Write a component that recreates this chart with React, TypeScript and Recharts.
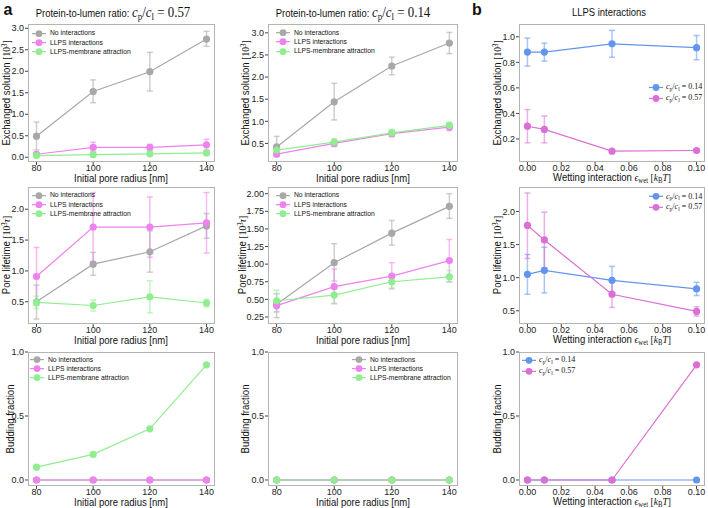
import React from 'react';
import { LineChart, Line, XAxis, YAxis, ErrorBar } from 'recharts';

// x values
const poreRadius = [80, 100, 120, 140];
const wetting = [0, 0.01, 0.05, 0.1];

// tick labels
const radiusTicks = [80, 100, 120, 140];
const wettingTicks = [0, 0.02, 0.04, 0.06, 0.08, 0.1];
const exch057Ticks = [0, 0.5, 1, 1.5, 2, 2.5, 3];
const exch014Ticks = [0.5, 1, 1.5, 2, 2.5, 3];
const exchLlpsTicks = [0.2, 0.4, 0.6, 0.8, 1.0];
const life057Ticks = [0.5, 1, 1.5, 2];
const life014Ticks = [0.25, 0.5, 0.75, 1, 1.25, 1.5, 1.75, 2];
const lifeLlpsTicks = [0.5, 1, 1.5, 2];
const buddingTicks = [0, 0.5, 1];

const seriesNames = ['No interactions', 'LLPS interactions', 'LLPS-membrane attraction'];
const ratioNames = ['0.14', '0.57'];

// exchanged solution [10^3], cp/cl = 0.57
const exch057None = [0.49, 1.53, 1.99, 2.75];
const exch057NoneErr = [[0.32, 0.33], [0.26, 0.27], [0.45, 0.45], [0.17, 0.18]];
const exch057Llps = [0.07, 0.23, 0.23, 0.29];
const exch057LlpsErr = [[0.04, 0.04], [0.1, 0.12], [0.08, 0.07], [0.12, 0.13]];
const exch057Memb = [0.04, 0.06, 0.08, 0.1];
const exch057MembErr = [[0.02, 0.02], [0.02, 0.02], [0.03, 0.03], [0.03, 0.03]];

// exchanged solution, cp/cl = 0.14
const exch014None = [0.42, 1.44, 2.25, 2.77];
const exch014NoneErr = [[0.22, 0.24], [0.41, 0.42], [0.2, 0.2], [0.24, 0.24]];
const exch014Llps = [0.26, 0.5, 0.72, 0.87];
const exch014LlpsErr = [[0.05, 0.05], [0.07, 0.07], [0.07, 0.07], [0.08, 0.08]];
const exch014Memb = [0.35, 0.53, 0.74, 0.91];
const exch014MembErr = [[0.06, 0.06], [0.08, 0.08], [0.08, 0.08], [0.07, 0.07]];

// exchanged solution vs wetting
const exchWet014 = [0.88, 0.88, 0.945, 0.915];
const exchWet014Err = [[0.11, 0.11], [0.07, 0.07], [0.105, 0.105], [0.095, 0.095]];
const exchWet057 = [0.3, 0.275, 0.105, 0.11];
const exchWet057Err = [[0.13, 0.13], [0.105, 0.105], [0.01, 0.01], [0.01, 0.01]];

// pore lifetime [10^3 tau], cp/cl = 0.57
const life057None = [0.5, 1.11, 1.31, 1.73];
const life057NoneErr = [[0.28, 0.27], [0.18, 0.19], [0.33, 0.34], [0.2, 0.2]];
const life057Llps = [0.91, 1.71, 1.71, 1.78];
const life057LlpsErr = [[0.47, 0.47], [0.56, 0.56], [0.49, 0.49], [0.49, 0.49]];
const life057Memb = [0.49, 0.44, 0.58, 0.48];
const life057MembErr = [[0.1, 0.1], [0.09, 0.09], [0.26, 0.26], [0.06, 0.06]];

// pore lifetime, cp/cl = 0.14
const life014None = [0.43, 1.02, 1.44, 1.82];
const life014NoneErr = [[0.19, 0.15], [0.26, 0.27], [0.17, 0.18], [0.17, 0.18]];
const life014Llps = [0.41, 0.68, 0.83, 1.05];
const life014LlpsErr = [[0.09, 0.09], [0.24, 0.25], [0.18, 0.19], [0.3, 0.3]];
const life014Memb = [0.48, 0.56, 0.75, 0.82];
const life014MembErr = [[0.15, 0.15], [0.12, 0.12], [0.09, 0.1], [0.08, 0.09]];

// pore lifetime vs wetting
const lifeWet014 = [1.05, 1.11, 0.96, 0.83];
const lifeWet014Err = [[0.3, 0.3], [0.34, 0.35], [0.2, 0.21], [0.1, 0.1]];
const lifeWet057 = [1.79, 1.57, 0.75, 0.49];
const lifeWet057Err = [[0.5, 0.49], [0.42, 0.42], [0.2, 0.2], [0.07, 0.07]];

// budding fraction
const bud057None = [0, 0, 0, 0];
const bud057Llps = [0, 0, 0, 0];
const bud057Memb = [0.1, 0.2, 0.4, 0.9];
const bud014None = [0, 0, 0, 0];
const bud014Llps = [0, 0, 0, 0];
const bud014Memb = [0, 0, 0, 0];
const budWet014 = [0, 0, 0, 0];
const budWet057 = [0, 0, 0, 0.9];

const GRAY = '#a8a8a8';
const VIOLET = '#ee82ee';
const GREEN = '#90ee90';
const BLUE = '#6495ed';
const ORCHID = '#da70d6';

const SANS = '"Liberation Sans", Arial, sans-serif';
const SERIF = '"Liberation Serif", "DejaVu Serif", serif';

const YW = 34;
const MT = 6;
const MR = 8;
const XH = 16;

type Series = { color: string; values: number[]; err?: number[][] };

const Sub = ({ children, size }: any) => (
  <span style={{ fontSize: size, position: 'relative', top: '0.3em', lineHeight: 0 }}>{children}</span>
);
const Sup = ({ children, size }: any) => (
  <span style={{ fontSize: size, position: 'relative', top: '-0.45em', lineHeight: 0 }}>{children}</span>
);

const CpCl = ({ v, size }: { v: string; size: number }) => (
  <span style={{ fontFamily: SERIF, fontSize: size }}>
    <i>c</i>
    <Sub size={size * 0.7}>p</Sub>/<i>c</i>
    <Sub size={size * 0.7}>l</Sub> = {v}
  </span>
);

interface PanelProps {
  box: number[];
  xs: number[];
  series: Series[];
  xDomain: number[];
  xTicks: number[];
  xDigits: number;
  yDomain: number[];
  yTicks: number[];
  yDigits: number;
  labels: React.ReactNode[];
  leg: { dx: number; dy: number; gap: number; textDx: number; font: number; scale: number };
}

const Panel = ({ box, xs, series, xDomain, xTicks, xDigits, yDomain, yTicks, yDigits, labels, leg }: PanelProps) => {
  const [bx, by, bw, bh] = box;
  const rows = xs.map((x, i) => {
    const row: any = { x };
    series.forEach((s, k) => {
      row['y' + k] = s.values[i];
      if (s.err) row['e' + k] = s.err[i];
    });
    return row;
  });
  const tickStyle = { fontSize: 9, fill: '#222', fontFamily: SANS };
  return (
    <>
      <div style={{ position: 'absolute', left: bx - YW, top: by - MT }}>
        <LineChart
          width={YW + bw + MR}
          height={MT + bh + XH}
          data={rows}
          margin={{ top: MT, right: MR, left: 0, bottom: 0 }}
        >
          <XAxis
            dataKey="x"
            type="number"
            domain={xDomain}
            ticks={xTicks}
            interval={0}
            allowDataOverflow
            axisLine={false}
            tickSize={3}
            tickMargin={0}
            height={XH}
            stroke="#444"
            tick={tickStyle}
            tickFormatter={(v: number) => v.toFixed(xDigits)}
          />
          <YAxis
            type="number"
            domain={yDomain}
            ticks={yTicks}
            interval={0}
            allowDataOverflow
            axisLine={false}
            tickSize={3}
            tickMargin={1}
            width={YW}
            stroke="#444"
            tick={tickStyle}
            tickFormatter={(v: number) => v.toFixed(yDigits)}
          />
          {series.map((s, k) => (
            <Line
              key={k}
              dataKey={'y' + k}
              stroke={s.color}
              strokeWidth={1.2}
              dot={{ r: 3.6, fill: s.color, stroke: s.color, strokeWidth: 0 }}
              isAnimationActive={false}
            >
              {s.err && (
                <ErrorBar dataKey={'e' + k} width={3} stroke={s.color} strokeOpacity={0.55} strokeWidth={1.5} direction="y" />
              )}
            </Line>
          ))}
        </LineChart>
      </div>
      <div
        style={{
          position: 'absolute',
          left: bx,
          top: by,
          width: bw,
          height: bh,
          border: '1.5px solid #b4b4b4',
          boxSizing: 'border-box',
          pointerEvents: 'none',
        }}
      />
      <div style={{ position: 'absolute', left: bx + leg.dx - 7, top: by + leg.dy - leg.gap / 2 }}>
        {series.map((s, k) => (
          <div key={k} style={{ position: 'relative', height: leg.gap, whiteSpace: 'nowrap' }}>
            <svg width={14} height={leg.gap} style={{ position: 'absolute', left: 0, top: 0 }}>
              <line x1={0} y1={leg.gap / 2} x2={14} y2={leg.gap / 2} stroke={s.color} strokeWidth={1.2} />
              <circle cx={7} cy={leg.gap / 2} r={3.4} fill={s.color} />
            </svg>
            <span
              style={{
                position: 'absolute',
                left: leg.textDx + 7,
                top: leg.gap / 2,
                transform: `translateY(-50%) scaleX(${leg.scale})`,
                transformOrigin: 'left center',
                fontSize: leg.font,
                fontFamily: SANS,
                color: '#111',
                lineHeight: 1,
              }}
            >
              {labels[k]}
            </span>
          </div>
        ))}
      </div>
    </>
  );
};

const Txt = ({ x, y, rot, size, children, bold, sx = 0.9 }: any) => (
  <div
    style={{
      position: 'absolute',
      left: x,
      top: y,
      transform: `translate(-50%, -50%)${rot ? ' rotate(-90deg)' : ''} scaleX(${sx})`,
      fontSize: size,
      fontFamily: SANS,
      fontWeight: bold ? 'bold' : 'normal',
      whiteSpace: 'nowrap',
      lineHeight: 1,
      color: '#111',
    }}
  >
    {children}
  </div>
);

const aLegend = { dx: 11, dy: 9.3, gap: 9.3, textDx: 11, font: 7.5, scale: 0.9 };
const bLegend = { dx: 137, dy: 63, gap: 11, textDx: 10, font: 8, scale: 1 };

export default function App() {
  const ratioLabels = ratioNames.map((r) => <CpCl v={r} size={8} />);
  const col1 = [28, 187];
  const col2 = [268, 190];
  const col3 = [519, 186];
  const r1 = [24, 138];
  const r2 = [187, 137];
  const r3 = [352, 134];
  const exLabel = (
    <span>
      Exchanged solution <span style={{ fontFamily: SERIF }}>[10<Sup size={7.5}>3</Sup>]</span>
    </span>
  );
  const lifeLabel = (
    <span>
      Pore lifetime <span style={{ fontFamily: SERIF }}>[10<Sup size={7.5}>3</Sup><i>τ</i>]</span>
    </span>
  );
  const radLabel = 'Initial pore radius [nm]';
  const wetLabel = (
    <span>
      Wetting interaction{' '}
      <span style={{ fontFamily: SERIF }}>
        <i>ϵ</i>
        <Sub size={7.5}>wet</Sub> [<i>k</i>
        <Sub size={7.5}>B</Sub>
        <i>T</i>]
      </span>
    </span>
  );
  const lbl = 10.6;
  return (
    <div style={{ position: 'absolute', left: 0, top: 0, width: 708, height: 508, background: '#fff', overflow: 'hidden' }}>
      <Txt x={8} y={10} size={16} bold sx={1}>a</Txt>
      <Txt x={477} y={10} size={16} bold sx={1}>b</Txt>
      <Txt x={113} y={12} size={11} sx={0.86}>
        Protein-to-lumen ratio: <CpCl v="0.57" size={15} />
      </Txt>
      <Txt x={353} y={12} size={11} sx={0.86}>
        Protein-to-lumen ratio: <CpCl v="0.14" size={15} />
      </Txt>
      <Txt x={609} y={12} size={11} sx={0.86}>LLPS interactions</Txt>

      {/* row 1 */}
      <Panel
        box={[col1[0], r1[0], col1[1], r1[1]]}
        xs={poreRadius}
        series={[
          { color: GRAY, values: exch057None, err: exch057NoneErr },
          { color: VIOLET, values: exch057Llps, err: exch057LlpsErr },
          { color: GREEN, values: exch057Memb, err: exch057MembErr },
        ]}
        xDomain={[77, 143]}
        xTicks={radiusTicks}
        xDigits={0}
        yDomain={[-0.11, 3.1]}
        yTicks={exch057Ticks}
        yDigits={1}
        labels={seriesNames}
        leg={aLegend}
      />
      <Panel
        box={[col2[0], r1[0], col2[1], r1[1]]}
        xs={poreRadius}
        series={[
          { color: GRAY, values: exch014None, err: exch014NoneErr },
          { color: VIOLET, values: exch014Llps, err: exch014LlpsErr },
          { color: GREEN, values: exch014Memb, err: exch014MembErr },
        ]}
        xDomain={[77, 143]}
        xTicks={radiusTicks}
        xDigits={0}
        yDomain={[0.08, 3.2]}
        yTicks={exch014Ticks}
        yDigits={1}
        labels={seriesNames}
        leg={{ ...aLegend, dx: 15, dy: 8.7 }}
      />
      <Panel
        box={[col3[0], r1[0], col3[1], r1[1]]}
        xs={wetting}
        series={[
          { color: BLUE, values: exchWet014, err: exchWet014Err },
          { color: ORCHID, values: exchWet057, err: exchWet057Err },
        ]}
        xDomain={[-0.005, 0.105]}
        xTicks={wettingTicks}
        xDigits={2}
        yDomain={[0.02, 1.1]}
        yTicks={exchLlpsTicks}
        yDigits={1}
        labels={ratioLabels}
        leg={bLegend}
      />

      {/* row 2 */}
      <Panel
        box={[col1[0], r2[0], col1[1], r2[1]]}
        xs={poreRadius}
        series={[
          { color: GRAY, values: life057None, err: life057NoneErr },
          { color: VIOLET, values: life057Llps, err: life057LlpsErr },
          { color: GREEN, values: life057Memb, err: life057MembErr },
        ]}
        xDomain={[77, 143]}
        xTicks={radiusTicks}
        xDigits={0}
        yDomain={[0.14, 2.36]}
        yTicks={life057Ticks}
        yDigits={1}
        labels={seriesNames}
        leg={{ ...aLegend, dy: 8.3 }}
      />
      <Panel
        box={[col2[0], r2[0], col2[1], r2[1]]}
        xs={poreRadius}
        series={[
          { color: GRAY, values: life014None, err: life014NoneErr },
          { color: VIOLET, values: life014Llps, err: life014LlpsErr },
          { color: GREEN, values: life014Memb, err: life014MembErr },
        ]}
        xDomain={[77, 143]}
        xTicks={radiusTicks}
        xDigits={0}
        yDomain={[0.15, 2.095]}
        yTicks={life014Ticks}
        yDigits={2}
        labels={seriesNames}
        leg={{ ...aLegend, dx: 15, dy: 8.3 }}
      />
      <Panel
        box={[col3[0], r2[0], col3[1], r2[1]]}
        xs={wetting}
        series={[
          { color: BLUE, values: lifeWet014, err: lifeWet014Err },
          { color: ORCHID, values: lifeWet057, err: lifeWet057Err },
        ]}
        xDomain={[-0.005, 0.105]}
        xTicks={wettingTicks}
        xDigits={2}
        yDomain={[0.3, 2.37]}
        yTicks={lifeLlpsTicks}
        yDigits={1}
        labels={ratioLabels}
        leg={{ ...bLegend, dy: 9.7, gap: 10.6 }}
      />

      {/* row 3 */}
      <Panel
        box={[col1[0], r3[0], col1[1], r3[1]]}
        xs={poreRadius}
        series={[
          { color: GRAY, values: bud057None },
          { color: VIOLET, values: bud057Llps },
          { color: GREEN, values: bud057Memb },
        ]}
        xDomain={[77, 143]}
        xTicks={radiusTicks}
        xDigits={0}
        yDomain={[-0.047, 1.0]}
        yTicks={buddingTicks}
        yDigits={1}
        labels={seriesNames}
        leg={{ ...aLegend, dx: 9, dy: 7.7, gap: 9.2 }}
      />
      <Panel
        box={[col2[0], r3[0], col2[1], r3[1]]}
        xs={poreRadius}
        series={[
          { color: GRAY, values: bud014None },
          { color: VIOLET, values: bud014Llps },
          { color: GREEN, values: bud014Memb },
        ]}
        xDomain={[77, 143]}
        xTicks={radiusTicks}
        xDigits={0}
        yDomain={[-0.047, 1.0]}
        yTicks={buddingTicks}
        yDigits={1}
        labels={seriesNames}
        leg={{ ...aLegend, dx: 91, dy: 7.7, gap: 9.2 }}
      />
      <Panel
        box={[col3[0], r3[0], col3[1], r3[1]]}
        xs={wetting}
        series={[
          { color: BLUE, values: budWet014 },
          { color: ORCHID, values: budWet057 },
        ]}
        xDomain={[-0.005, 0.105]}
        xTicks={wettingTicks}
        xDigits={2}
        yDomain={[-0.047, 1.0]}
        yTicks={buddingTicks}
        yDigits={1}
        labels={ratioLabels}
        leg={{ ...bLegend, dx: 10, dy: 8.3, gap: 10.7 }}
      />

      {/* y labels */}
      <Txt x={6.5} y={93} size={lbl} rot>{exLabel}</Txt>
      <Txt x={246} y={93} size={lbl} rot>{exLabel}</Txt>
      <Txt x={497.5} y={93} size={lbl} rot>{exLabel}</Txt>
      <Txt x={6.5} y={255} size={lbl} rot>{lifeLabel}</Txt>
      <Txt x={242.5} y={255} size={lbl} rot>{lifeLabel}</Txt>
      <Txt x={497.5} y={255} size={lbl} rot>{lifeLabel}</Txt>
      <Txt x={10} y={419} size={lbl} rot>Budding fraction</Txt>
      <Txt x={245} y={419} size={lbl} rot>Budding fraction</Txt>
      <Txt x={497} y={419} size={lbl} rot>Budding fraction</Txt>

      {/* x labels */}
      <Txt x={121} y={178} size={lbl}>{radLabel}</Txt>
      <Txt x={363} y={178} size={lbl}>{radLabel}</Txt>
      <Txt x={612} y={178} size={lbl}>{wetLabel}</Txt>
      <Txt x={121} y={340} size={lbl}>{radLabel}</Txt>
      <Txt x={363} y={340} size={lbl}>{radLabel}</Txt>
      <Txt x={612} y={340} size={lbl}>{wetLabel}</Txt>
      <Txt x={121} y={502} size={lbl}>{radLabel}</Txt>
      <Txt x={363} y={502} size={lbl}>{radLabel}</Txt>
      <Txt x={612} y={501.5} size={lbl}>{wetLabel}</Txt>
    </div>
  );
}
